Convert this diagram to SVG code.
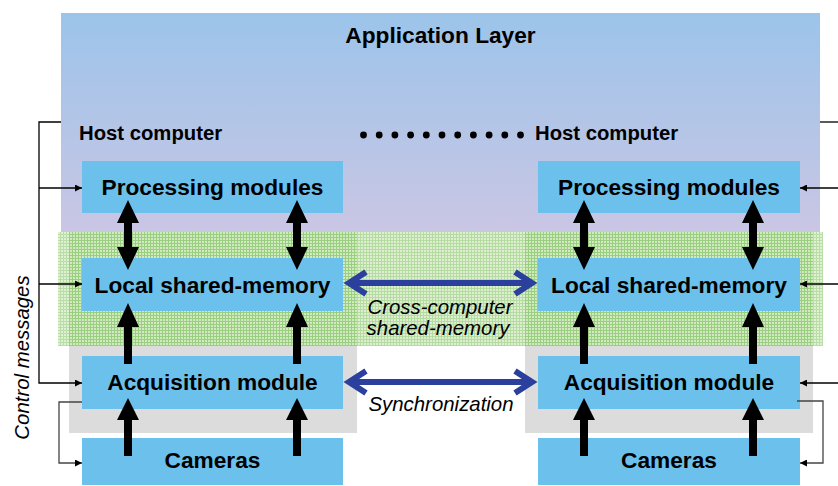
<svg xmlns="http://www.w3.org/2000/svg" width="838" height="486" viewBox="0 0 838 486">
  <style>
    .box { fill: #6bc1ec; }
    .lbl { font-family: "Liberation Sans", Arial, sans-serif; font-weight: bold; font-size: 22.7px; fill: #000; text-anchor: middle; }
    .host { font-family: "Liberation Sans", Arial, sans-serif; font-weight: bold; font-size: 20.3px; fill: #000; }
    .note { font-family: "Liberation Sans", Arial, sans-serif; font-style: italic; font-size: 20.4px; fill: #000; text-anchor: middle; }
    .ctl { fill: none; stroke: #000; stroke-width: 1.3; }
    .ctl2 { fill: none; stroke: #444; stroke-width: 1.3; }
    .blk { fill: #000; }
    .link { fill: none; stroke: #2b3f9c; stroke-width: 6; stroke-linejoin: miter; }
  </style>
  <defs>
    <linearGradient id="appGrad" x1="0" y1="0" x2="0" y2="1">
      <stop offset="0" stop-color="#9cc4ea"/>
      <stop offset="1" stop-color="#cac6e4"/>
    </linearGradient>
    <pattern id="grid" width="3" height="3" patternUnits="userSpaceOnUse">
      <rect width="3" height="3" fill="#d2eac1"/>
      <path d="M0,0.5 H3 M0.5,0 V3" stroke="#9bcf80" stroke-width="1"/>
    </pattern>
    <marker id="tip" viewBox="0 0 10 10" refX="10" refY="5" markerWidth="8" markerHeight="7" markerUnits="userSpaceOnUse" orient="auto">
      <path d="M0,0 L10,5 L0,10 Z" fill="#000"/>
    </marker>
    <!-- thick black arrows, drawn around x = 0 -->
    <path id="dbl" d="M0,200 L11,223 L4,223 L4,247 L11,247 L0,270 L-11,247 L-4,247 L-4,223 L-11,223 Z"/>
    <path id="up1" d="M0,303 L11,327 L4,327 L4,364 L-4,364 L-4,327 L-11,327 Z"/>
    <path id="up2" d="M0,398 L11,420 L4,420 L4,456 L-4,456 L-4,420 L-11,420 Z"/>
  </defs>

  <!-- layered backgrounds -->
  <g id="application-layer">
    <rect x="61" y="13" width="759" height="219" fill="url(#appGrad)"/>
    <text class="lbl" x="440.5" y="43" font-size="27.5">Application Layer</text>
    <text class="host" x="79" y="140">Host computer</text>
    <text class="host" x="535" y="140">Host computer</text>
    <g fill="#000">
      <circle cx="363.5" cy="135" r="3.4"/>
      <circle cx="379.2" cy="135" r="3.4"/>
      <circle cx="394.9" cy="135" r="3.4"/>
      <circle cx="410.6" cy="135" r="3.4"/>
      <circle cx="426.3" cy="135" r="3.4"/>
      <circle cx="442" cy="135" r="3.4"/>
      <circle cx="457.7" cy="135" r="3.4"/>
      <circle cx="473.4" cy="135" r="3.4"/>
      <circle cx="489.1" cy="135" r="3.4"/>
      <circle cx="504.8" cy="135" r="3.4"/>
      <circle cx="520.5" cy="135" r="3.4"/>
    </g>
  </g>
  <g id="shared-memory-layer">
    <rect x="58" y="232" width="765" height="114" fill="url(#grid)"/>
    <rect x="58" y="232" width="11" height="114" fill="#fff" opacity="0.3"/>
    <rect x="357" y="232" width="168" height="114" fill="#fff" opacity="0.25"/>
    <rect x="813" y="232" width="10" height="114" fill="#fff" opacity="0.3"/>
  </g>
  <g id="acquisition-layer">
    <rect x="69" y="346" width="288" height="87" fill="#dcdcdc"/>
    <rect x="525" y="346" width="288" height="87" fill="#dcdcdc"/>
  </g>

  <!-- left host -->
  <g id="proc-left"><rect class="box" x="82" y="161" width="261" height="52"/><text class="lbl" x="212.5" y="195">Processing modules</text></g>
  <g id="mem-left"><rect class="box" x="82" y="258" width="261" height="53"/><text class="lbl" x="212.5" y="293">Local shared-memory</text></g>
  <g id="acq-left"><rect class="box" x="82" y="356" width="261" height="53"/><text class="lbl" x="212.5" y="390">Acquisition module</text></g>
  <g id="cam-left"><rect class="box" x="82" y="438" width="261" height="47"/><text class="lbl" x="212.5" y="468">Cameras</text></g>

  <!-- right host -->
  <g id="proc-right"><rect class="box" x="538" y="161" width="262" height="52"/><text class="lbl" x="669" y="195">Processing modules</text></g>
  <g id="mem-right"><rect class="box" x="538" y="258" width="262" height="53"/><text class="lbl" x="669" y="293">Local shared-memory</text></g>
  <g id="acq-right"><rect class="box" x="538" y="356" width="262" height="53"/><text class="lbl" x="669" y="390">Acquisition module</text></g>
  <g id="cam-right"><rect class="box" x="538" y="438" width="262" height="47"/><text class="lbl" x="669" y="468">Cameras</text></g>

  <text class="note" transform="translate(29,357.5) rotate(-90)" x="0" y="0">Control messages</text>

  <g id="connectors">
    <!-- data flow inside each host -->
    <g class="blk">
      <use href="#dbl" x="128"/><use href="#dbl" x="297"/>
      <use href="#dbl" x="584"/><use href="#dbl" x="753"/>
      <use href="#up1" x="128"/><use href="#up1" x="297"/>
      <use href="#up1" x="584"/><use href="#up1" x="753"/>
      <use href="#up2" x="128"/><use href="#up2" x="297"/>
      <use href="#up2" x="584"/><use href="#up2" x="753"/>
    </g>

    <!-- links between hosts -->
    <path class="link" d="M349,283 H532"/>
    <polyline class="link" points="366,272 349,283 366,294"/>
    <polyline class="link" points="515,272 532,283 515,294"/>
    <path class="link" d="M349,382 H532"/>
    <polyline class="link" points="366,371 349,382 366,393"/>
    <polyline class="link" points="515,371 532,382 515,393"/>
    <text class="note" x="440" y="314">Cross-computer</text>
    <text class="note" x="438" y="335">shared-memory</text>
    <text class="note" x="441" y="411">Synchronization</text>

    <!-- control messages, left -->
    <path class="ctl" d="M61,122 H39 V383 H82" marker-end="url(#tip)"/>
    <path class="ctl" d="M39,188 H82" marker-end="url(#tip)"/>
    <path class="ctl" d="M39,284 H82" marker-end="url(#tip)"/>
    <path class="ctl2" d="M82,402 H59 V463 H82" marker-end="url(#tip)"/>

    <!-- control messages, right -->
    <path class="ctl" d="M820,122 H838"/>
    <path class="ctl" d="M838,188 H800" marker-end="url(#tip)"/>
    <path class="ctl" d="M838,284 H800" marker-end="url(#tip)"/>
    <path class="ctl" d="M838,383 H800" marker-end="url(#tip)"/>
    <path class="ctl2" d="M797,401 H823 V463 H800" marker-end="url(#tip)"/>
  </g>
</svg>
